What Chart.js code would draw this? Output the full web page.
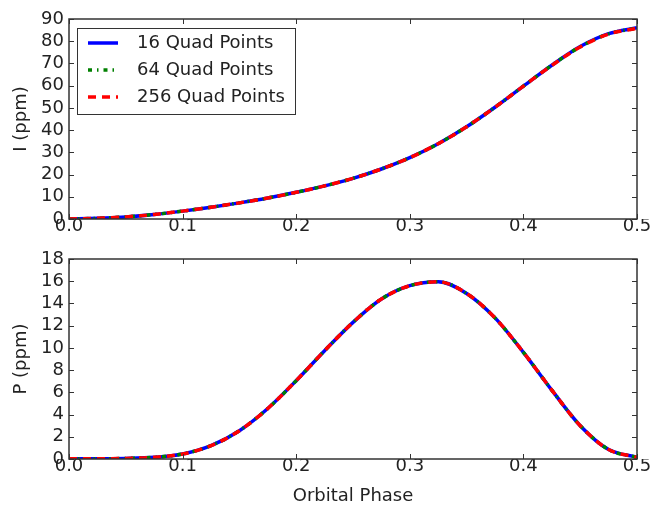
<!DOCTYPE html>
<html>
<head>
<meta charset="utf-8">
<script src="https://cdn.jsdelivr.net/npm/chart.js@4.4.1/dist/chart.umd.min.js"></script>
<style>
    body { margin: 0; background: #fff; }
    #contenedorI { position: absolute; left: 0; top: 0; }
    #contenedorP { position: absolute; left: 0; top: 240px; }
</style>
</head>
<body>
<div id="contenedorI"><canvas id="graficoI" width="666" height="240"></canvas></div>
<div id="contenedorP"><canvas id="graficoP" width="666" height="268"></canvas></div>
<script>

// fase orbital (eje x)
const fase = [0, 0.025, 0.05, 0.075, 0.1, 0.125, 0.15, 0.175, 0.2, 0.225, 0.25,
    0.275, 0.3, 0.325, 0.35, 0.375, 0.4, 0.425, 0.45, 0.475, 0.5];

// I (ppm) - panel superior
const iQuad16 = [0, 0.3, 0.95, 2.05, 3.55, 5.3, 7.25, 9.45, 12.0, 14.9, 18.3,
    22.5, 27.6, 33.9, 41.5, 50.3, 59.8, 69.2, 77.6, 83.4, 86.1];
const iQuad64 = [0, 0.3, 0.95, 2.05, 3.55, 5.3, 7.25, 9.45, 12.0, 14.9, 18.3,
    22.5, 27.6, 33.9, 41.5, 50.3, 59.8, 69.2, 77.5, 83.3, 85.9];
const iQuad256 = [0, 0.3, 0.95, 2.05, 3.55, 5.3, 7.25, 9.45, 12.0, 14.9, 18.3,
    22.5, 27.6, 33.9, 41.5, 50.3, 59.8, 69.1, 77.4, 83.2, 85.8];

// P (ppm) - panel inferior
const pQuad16 = [0.02, 0.02, 0.05, 0.15, 0.45, 1.2, 2.55, 4.55, 7.05, 9.75, 12.3,
    14.4, 15.6, 15.95, 14.9, 12.7, 9.6, 6.2, 3.0, 0.85, 0.15];
const pQuad64 = [0.02, 0.02, 0.05, 0.15, 0.45, 1.2, 2.55, 4.55, 7.05, 9.75, 12.3,
    14.4, 15.6, 15.95, 14.9, 12.7, 9.6, 6.2, 3.0, 0.85, 0.15];
const pQuad256 = [0.02, 0.02, 0.05, 0.15, 0.45, 1.2, 2.55, 4.55, 7.05, 9.75, 12.3,
    14.4, 15.6, 15.95, 14.9, 12.7, 9.6, 6.2, 3.0, 0.85, 0.15];

const etiquetas = ['16 Quad Points', '64 Quad Points', '256 Quad Points'];
const ticksX = [0, 0.1, 0.2, 0.3, 0.4, 0.5];
const ticksI = [0, 10, 20, 30, 40, 50, 60, 70, 80, 90];
const ticksP = [0, 2, 4, 6, 8, 10, 12, 14, 16, 18];

const fuente = "'DejaVu Sans', sans-serif";
const colorTexto = '#222';

function puntos(valores) {
    return fase.map((f, i) => ({ x: f, y: valores[i] }));
}

function series(s16, s64, s256) {
    // rojo encima, luego verde, azul abajo
    return [
        { label: etiquetas[0], data: puntos(s16), borderColor: '#0000ff', order: 3 },
        { label: etiquetas[1], data: puntos(s64), borderColor: '#008000', borderDash: [4, 5, 1.5, 5], order: 2 },
        { label: etiquetas[2], data: puntos(s256), borderColor: '#ff0000', borderDash: [8, 6], order: 1 }
    ].map(d => Object.assign(d, { borderWidth: 3.5, pointRadius: 0, cubicInterpolationMode: 'monotone', fill: false }));
}

// marco y ticks hacia adentro en los 4 lados (estilo matplotlib)
const marcoPlugin = {
    id: 'marco',
    afterDatasetsDraw(chart) {
        const { ctx, chartArea: a, scales } = chart;
        const largo = 5;
        ctx.save();
        ctx.strokeStyle = '#333';
        ctx.lineWidth = 1;
        ctx.beginPath();
        scales.x.ticks.forEach(t => {
            const px = Math.round(scales.x.getPixelForValue(t.value)) + 0.5;
            ctx.moveTo(px, a.bottom); ctx.lineTo(px, a.bottom - largo);
            ctx.moveTo(px, a.top); ctx.lineTo(px, a.top + largo);
        });
        scales.y.ticks.forEach(t => {
            const py = Math.round(scales.y.getPixelForValue(t.value)) + 0.5;
            ctx.moveTo(a.left, py); ctx.lineTo(a.left + largo, py);
            ctx.moveTo(a.right, py); ctx.lineTo(a.right - largo, py);
        });
        ctx.stroke();
        ctx.lineWidth = 1.5;
        ctx.strokeRect(a.left, a.top, a.right - a.left, a.bottom - a.top);
        ctx.restore();
    }
};

// leyenda dentro del area, arriba a la izquierda
const leyendaPlugin = {
    id: 'leyenda',
    afterDraw(chart, args, opts) {
        if (!opts.mostrar) return;
        const { ctx, chartArea: a } = chart;
        const bx = a.left + 8, by = a.top + 9, bw = 218, bh = 86;
        ctx.save();
        ctx.fillStyle = '#fff';
        ctx.fillRect(bx, by, bw, bh);
        ctx.strokeStyle = '#333';
        ctx.lineWidth = 1;
        ctx.strokeRect(bx + 0.5, by + 0.5, bw, bh);
        chart.data.datasets.forEach((ds, i) => {
            const yy = by + 15 + i * 27;
            ctx.strokeStyle = ds.borderColor;
            ctx.lineWidth = ds.borderWidth;
            ctx.setLineDash(ds.borderDash || []);
            ctx.beginPath();
            ctx.moveTo(bx + 11, yy);
            ctx.lineTo(bx + 41, yy);
            ctx.stroke();
            ctx.setLineDash([]);
            ctx.fillStyle = colorTexto;
            ctx.font = '18px ' + fuente;
            ctx.textBaseline = 'middle';
            ctx.textAlign = 'left';
            ctx.fillText(ds.label, bx + 60, yy);
        });
        ctx.restore();
    }
};

function crearGrafico(id, datasets, yMax, yTicks, tituloY, tituloX, altoX, conLeyenda) {
    const ctx = document.getElementById(id).getContext('2d');
    return new Chart(ctx, {
        type: 'line',
        data: { datasets: datasets },
        plugins: [marcoPlugin, leyendaPlugin],
        options: {
            responsive: false,
            animation: false,
            layout: { padding: { top: 19, right: 29, left: 0, bottom: 0 } },
            plugins: {
                legend: { display: false },
                tooltip: { enabled: false },
                leyenda: { mostrar: conLeyenda }
            },
            scales: {
                x: {
                    type: 'linear',
                    min: 0,
                    max: 0.5,
                    afterBuildTicks: s => { s.ticks = ticksX.map(v => ({ value: v })); },
                    afterFit: s => { s.height = altoX; },
                    grid: { display: false, drawTicks: false },
                    border: { display: false },
                    ticks: {
                        padding: -3,
                        autoSkip: false,
                        color: colorTexto,
                        font: { family: fuente, size: 18 },
                        maxRotation: 0,
                        callback: v => Number(v).toFixed(1)
                    },
                    title: {
                        display: !!tituloX,
                        text: tituloX,
                        color: colorTexto,
                        font: { family: fuente, size: 18 },
                        padding: { top: 0, bottom: 1 }
                    }
                },
                y: {
                    min: 0,
                    max: yMax,
                    afterBuildTicks: s => { s.ticks = yTicks.map(v => ({ value: v })); },
                    afterFit: s => { s.width = 69; },
                    grid: { display: false, drawTicks: false },
                    border: { display: false },
                    ticks: {
                        padding: 5,
                        autoSkip: false,
                        color: colorTexto,
                        font: { family: fuente, size: 18 }
                    },
                    title: {
                        display: true,
                        text: tituloY,
                        color: colorTexto,
                        font: { family: fuente, size: 18 },
                        padding: { top: 11, bottom: 0 }
                    }
                }
            }
        }
    });
}

crearGrafico('graficoI', series(iQuad16, iQuad64, iQuad256), 90, ticksI, 'I (ppm)', '', 21, true);
crearGrafico('graficoP', series(pQuad16, pQuad64, pQuad256), 18, ticksP, 'P (ppm)', 'Orbital Phase', 49, false);

</script>
</body>
</html>
